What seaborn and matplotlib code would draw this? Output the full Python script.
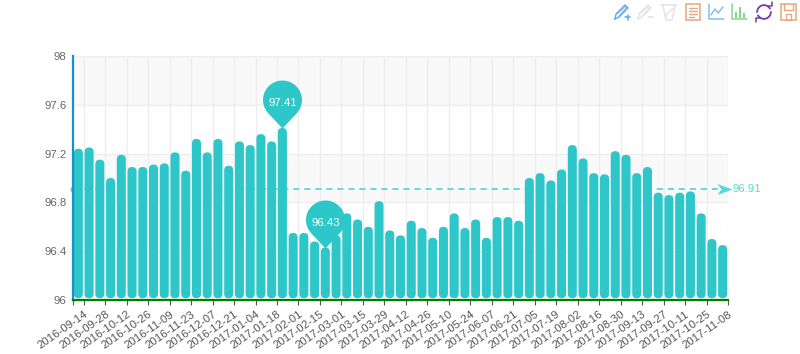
import matplotlib
matplotlib.use("Agg")
import matplotlib.pyplot as plt
from matplotlib.patches import FancyBboxPatch, Rectangle
from matplotlib.path import Path
import numpy as np
import pandas as pd
import seaborn as sns

weeks = ['2016-09-14', '2016-09-21', '2016-09-28', '2016-10-05', '2016-10-12', '2016-10-19', '2016-10-26',
         '2016-11-02', '2016-11-09', '2016-11-16', '2016-11-23', '2016-11-30', '2016-12-07', '2016-12-14',
         '2016-12-21', '2016-12-28', '2017-01-04', '2017-01-11', '2017-01-18', '2017-01-25', '2017-02-01',
         '2017-02-08', '2017-02-15', '2017-02-22', '2017-03-01', '2017-03-08', '2017-03-15', '2017-03-22',
         '2017-03-29', '2017-04-05', '2017-04-12', '2017-04-19', '2017-04-26', '2017-05-03', '2017-05-10',
         '2017-05-17', '2017-05-24', '2017-05-31', '2017-06-07', '2017-06-14', '2017-06-21', '2017-06-28',
         '2017-07-05', '2017-07-12', '2017-07-19', '2017-07-26', '2017-08-02', '2017-08-09', '2017-08-16',
         '2017-08-23', '2017-08-30', '2017-09-06', '2017-09-13', '2017-09-20', '2017-09-27', '2017-10-04',
         '2017-10-11', '2017-10-18', '2017-10-25', '2017-11-01', '2017-11-08']
values = [97.24, 97.25, 97.15, 97.00, 97.19, 97.09, 97.09, 97.11, 97.12, 97.21, 97.06, 97.32, 97.21, 97.32,
          97.10, 97.30, 97.27, 97.36, 97.30, 97.41, 96.55, 96.55, 96.48, 96.43, 96.53, 96.71, 96.66, 96.60,
          96.81, 96.57, 96.53, 96.65, 96.59, 96.51, 96.60, 96.71, 96.59, 96.66, 96.51, 96.68, 96.68, 96.65,
          97.00, 97.04, 96.98, 97.07, 97.27, 97.16, 97.04, 97.03, 97.22, 97.19, 97.04, 97.09, 96.88, 96.86,
          96.88, 96.89, 96.71, 96.50, 96.45]
y_ticks = [96, 96.4, 96.8, 97.2, 97.6, 98]
y_labels = ['96', '96.4', '96.8', '97.2', '97.6', '98']
average = 96.91

TEAL = '#2ec7c9'
LINE = '#5cd6d8'
W, H = 800, 354
FS = 8.2

sns.set_style('white')
plt.rcParams['font.family'] = ['Liberation Sans', 'DejaVu Sans']

fig = plt.figure(figsize=(W/100, H/100), dpi=100, facecolor='white')
ax = fig.add_axes([73/W, 1-300/H, 655/W, 244/H])

df = pd.DataFrame({'week': weeks, 'value': values})
sns.barplot(data=df, x='week', y='value', color=TEAL, width=0.84, saturation=1, ax=ax, zorder=3)
ax.set_xlim(-0.5, len(weeks)-0.5)
ax.set_ylim(96, 98)
ax.set_xlabel(''); ax.set_ylabel('')

# swap the square bars for rounded ones
aspect = (2/244) / (len(weeks)/655)
for bar in list(ax.patches):
    x0, w, h = bar.get_x(), bar.get_width(), bar.get_height()
    bar.set_visible(False)
    ax.add_patch(FancyBboxPatch((x0, 96.015), w, h-96.015, boxstyle='round,pad=0,rounding_size=0.41',
                                mutation_aspect=aspect, fc=TEAL, ec='none', zorder=3))

# split areas and grid
for i in range(0, len(y_ticks)-1, 2):
    ax.axhspan(y_ticks[i], y_ticks[i+1], color='#f9f9f9', lw=0, zorder=0)
tick_pos = [-0.5] + [i+0.5 for i in range(0, len(weeks), 2)]
for t in y_ticks:
    ax.axhline(t, color='#eeeeee', lw=1, zorder=1)
for t in tick_pos:
    ax.axvline(t, color='#eeeeee', lw=1, zorder=1)

ax.set_yticks(y_ticks, y_labels, fontsize=FS, color='#666666')
ax.set_xticks(tick_pos, [''] + weeks[::2], fontsize=FS, color='#555555', rotation=35, ha='right',
              rotation_mode='anchor')
ax.tick_params(axis='y', length=0, pad=4.5)
ax.tick_params(axis='x', length=3.5, width=0.8, color='#555555', pad=3, bottom=True)

for s in ['top', 'right']:
    ax.spines[s].set_visible(False)
ax.spines['left'].set_color('#1790cf'); ax.spines['left'].set_linewidth(1.6)
ax.spines['bottom'].set_color('#008000'); ax.spines['bottom'].set_linewidth(1.6)
ax.spines['left'].set_zorder(5); ax.spines['bottom'].set_zorder(6)

# average mark line
ax.plot([-0.5, len(weeks)-1.0], [average, average], color=LINE, lw=1.3, ls=(0, (3.4, 2.7)), zorder=2)
ax.plot([-0.5], [average], 'o', color=LINE, ms=3.5, clip_on=False, zorder=2)
arrow = Path([(-11, 5.5), (4, 0), (-11, -5.5), (-7, 0), (-11, 5.5)],
             [Path.MOVETO, Path.LINETO, Path.LINETO, Path.LINETO, Path.CLOSEPOLY])
ax.plot([len(weeks)-0.5], [average], marker=arrow, ms=2*11*0.72, color=LINE, mew=0, clip_on=False, zorder=4)
ax.annotate(f'{average}', (len(weeks)-0.5, average), xytext=(5*0.72, 0), textcoords='offset points',
            color=LINE, fontsize=FS, va='center', ha='left', annotation_clip=False)


def pin_path(r=19.5, d=28.5):
    a = np.degrees(np.arccos(r/d))
    arc = Path.arc(-90+a, 270-a)
    verts = np.vstack([[(0, 0)], arc.vertices*r + [0, d], [(0, 0)]])
    codes = [Path.MOVETO, Path.LINETO] + list(arc.codes[1:]) + [Path.CLOSEPOLY]
    return Path(verts, codes)


# max and min pins
for fn in (np.argmax, np.argmin):
    i = int(fn(values))
    ax.plot([i], [values[i]], marker=pin_path(), ms=2*48*0.72, color=TEAL, mew=0, zorder=7, clip_on=False)
    ax.annotate(f'{values[i]:.2f}', (i, values[i]), xytext=(0, 25*0.72), textcoords='offset points',
                color='white', fontsize=FS, ha='center', va='center', zorder=8)

# toolbox icons, in pixels
tb = fig.add_axes([0, 0, 1, 1], facecolor='none')
tb.set_xlim(0, W); tb.set_ylim(H, 0); tb.axis('off')
BLUE, GREY, ORANGE, SKY, GREEN, PURPLE = '#5aa9f5', '#e2e2e2', '#e8a77c', '#84bdf0', '#83d98a', '#7b3aa8'


def line(xs, ys, c, lw=0.9):
    tb.plot(xs, ys, color=c, lw=lw, solid_capstyle='round')


def pencil(cx, c, sign):
    line([cx-7, cx-6, cx+3, cx+6, cx-3, cx-7], [19, 14, 5, 8, 17, 19], c, 1.0)
    line([cx-5, cx+4], [14, 6], c, 0.6)
    line([cx-3, cx+5], [16, 7], c, 0.6)
    line([cx+3, cx+8], [17, 17], c, 1.1)
    if sign:
        line([cx+5.5, cx+5.5], [14.5, 19.5], c, 1.1)


pencil(622, BLUE, True)
pencil(645, GREY, False)
line([661, 677], [5, 5], GREY, 1.1)
line([663, 666, 672, 675], [5, 20, 20, 5], GREY, 1.0)
line([665, 673], [16, 8], GREY, 1.0)
tb.add_patch(Rectangle((686, 4), 14, 16, fc='none', ec=ORANGE, lw=1.1))
for yy, x1 in zip([8, 11, 14, 17], [697, 697, 697, 694]):
    line([689, x1], [yy, yy], ORANGE, 1.0)
line([709, 709, 724], [4, 19, 19], SKY, 1.1)
line([711, 715, 718, 723], [15, 9, 13, 7], SKY, 1.1)
line([732, 732, 747], [4, 19, 19], GREEN, 1.1)
for bx, top in zip([735, 739, 743], [12, 7, 13]):
    tb.add_patch(Rectangle((bx, top), 2.4, 18-top, fc=GREEN, ec='none'))
th = np.radians(np.array([30, 60, 90, 120, 150, 180]))
line(764+7*np.cos(th), 12-7*np.sin(th), PURPLE, 1.3)
line(764-7*np.cos(th), 12+7*np.sin(th), PURPLE, 1.3)
line([768, 772, 772], [6, 6, 2], PURPLE, 1.1)
line([760, 756, 756], [18, 18, 22], PURPLE, 1.1)
tb.add_patch(Rectangle((781, 4), 15, 16, fc='none', ec=ORANGE, lw=1.1))
line([784, 784, 793, 793], [4, 10, 10, 4], ORANGE, 1.0)
tb.add_patch(Rectangle((786, 14), 5, 6, fc='none', ec=ORANGE, lw=0.9))

fig.savefig('out.png', dpi=100, facecolor='white')
